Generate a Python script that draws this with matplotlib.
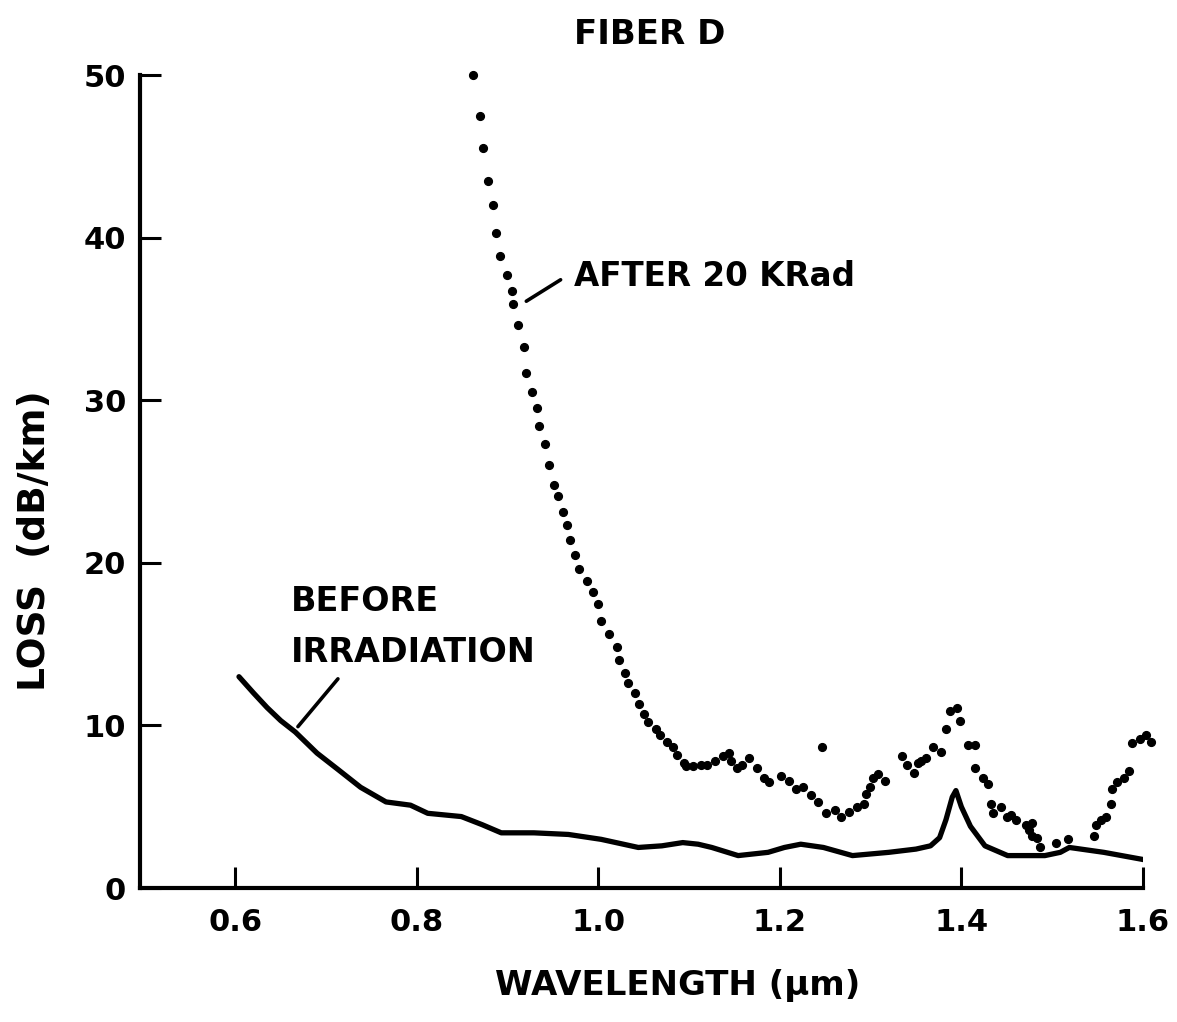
import matplotlib
matplotlib.use("Agg")
import matplotlib.pyplot as plt

plt.rcParams['font.family'] = ['DejaVu Sans']
plt.rcParams['font.weight'] = 'bold'

title = "FIBER D"
xlabel = "WAVELENGTH (\u03bcm)"
ylabel = "LOSS  (dB/km)"
label_before_1 = "BEFORE"
label_before_2 = "IRRADIATION"
label_after = "AFTER 20 KRad"

xticks = [0.6, 0.8, 1.0, 1.2, 1.4, 1.6]
xticklabels = ["0.6", "0.8", "1.0", "1.2", "1.4", "1.6"]
yticks = [0, 10, 20, 30, 40, 50]
yticklabels = ["0", "10", "20", "30", "40", "50"]

before_wl = [0.604, 0.620, 0.635, 0.650, 0.666, 0.690, 0.713, 0.738, 0.766, 0.793,
             0.812, 0.849, 0.872, 0.893, 0.929, 0.967, 1.003, 1.044, 1.070, 1.093,
             1.110, 1.125, 1.154, 1.187, 1.205, 1.223, 1.248, 1.280, 1.320, 1.350,
             1.366, 1.376, 1.383, 1.390, 1.394, 1.400, 1.410, 1.426, 1.451, 1.492,
             1.509, 1.519, 1.557, 1.606]
before_loss = [13.0, 12.0, 11.1, 10.3, 9.6, 8.3, 7.3, 6.2, 5.3, 5.1,
               4.6, 4.4, 3.9, 3.4, 3.4, 3.3, 3.0, 2.5, 2.6, 2.8,
               2.7, 2.5, 2.0, 2.2, 2.5, 2.7, 2.5, 2.0, 2.2, 2.4,
               2.6, 3.1, 4.2, 5.6, 6.0, 5.0, 3.8, 2.6, 2.0, 2.0,
               2.2, 2.5, 2.2, 1.7]

after_wl = [0.862, 0.870, 0.873, 0.878, 0.884, 0.887, 0.892, 0.899, 0.905, 0.906,
            0.911, 0.918, 0.920, 0.927, 0.932, 0.935, 0.941, 0.946, 0.951, 0.956,
            0.961, 0.965, 0.969, 0.974, 0.979, 0.987, 0.994, 1.000, 1.003, 1.012,
            1.020, 1.023, 1.029, 1.033, 1.040, 1.045, 1.050, 1.055,
            1.064, 1.068, 1.076, 1.082, 1.087, 1.094, 1.097, 1.104, 1.113, 1.120,
            1.129, 1.137, 1.144, 1.146, 1.153, 1.158, 1.166, 1.175, 1.182, 1.188,
            1.201, 1.210, 1.218, 1.226, 1.234, 1.242, 1.246, 1.251, 1.261, 1.267,
            1.276, 1.285, 1.293, 1.295, 1.299, 1.303, 1.308, 1.316, 1.335, 1.340,
            1.348, 1.352, 1.355, 1.361, 1.369, 1.378, 1.383, 1.387, 1.395, 1.399,
            1.407, 1.415, 1.415, 1.424, 1.429, 1.433, 1.435, 1.444, 1.450, 1.455,
            1.460, 1.471, 1.478, 1.475, 1.478, 1.483, 1.487, 1.504, 1.517, 1.546,
            1.548, 1.554, 1.559, 1.565, 1.566, 1.572, 1.579, 1.585, 1.588, 1.597,
            1.604, 1.609]
after_loss = [50.0, 47.5, 45.5, 43.5, 42.0, 40.3, 38.9, 37.7, 36.7, 35.9,
              34.6, 33.3, 31.7, 30.5, 29.5, 28.4, 27.3, 26.0, 24.8, 24.1,
              23.1, 22.3, 21.4, 20.5, 19.6, 18.9, 18.2, 17.5, 16.4, 15.6,
              14.8, 14.0, 13.2, 12.6, 12.0, 11.3, 10.7, 10.2,
              9.8, 9.4, 9.0, 8.7, 8.2, 7.7, 7.5, 7.5, 7.6, 7.6,
              7.8, 8.1, 8.3, 7.8, 7.4, 7.6, 8.0, 7.4, 6.8, 6.5,
              6.9, 6.6, 6.1, 6.2, 5.7, 5.3, 8.7, 4.6, 4.8, 4.4,
              4.7, 5.0, 5.2, 5.8, 6.2, 6.8, 7.0, 6.6, 8.1, 7.6,
              7.1, 7.7, 7.8, 8.0, 8.7, 8.4, 9.8, 10.9, 11.1, 10.3,
              8.8, 8.8, 7.4, 6.8, 6.4, 5.2, 4.6, 5.0, 4.4, 4.5,
              4.2, 3.9, 4.0, 3.6, 3.2, 3.1, 2.5, 2.8, 3.0, 3.2,
              3.9, 4.2, 4.4, 5.2, 6.1, 6.5, 6.8, 7.2, 8.9, 9.2,
              9.4, 9.0]

fig = plt.figure(figsize=(11.77, 10.22), dpi=100)
ax = fig.add_axes([0.119, 0.131, 0.852, 0.7956])

ax.plot(before_wl, before_loss, color='black', lw=3.8, solid_capstyle='round',
        solid_joinstyle='round')
ax.plot(after_wl, after_loss, linestyle='none', marker='o', ms=5.6, color='black',
        clip_on=False)

ax.set_xlim(0.495, 1.6)
ax.set_ylim(0, 50)
for side in ['top', 'right']:
    ax.spines[side].set_visible(False)
for side in ['left', 'bottom']:
    ax.spines[side].set_linewidth(3.0)

ax.set_xticks(xticks)
ax.set_xticklabels(xticklabels)
ax.set_yticks(yticks)
ax.set_yticklabels(yticklabels)
ax.tick_params(axis='both', direction='in', length=15, width=2.2, labelsize=22)
ax.tick_params(axis='x', pad=14)
ax.tick_params(axis='y', pad=10)
for lab in ax.get_xticklabels() + ax.get_yticklabels():
    lab.set_fontweight('bold')

# annotations
ax.text(0.973, 37.6, label_after, fontsize=23.5, fontweight='bold', va='center', ha='left')
ax.annotate('', xy=(0.918, 36.0), xytext=(0.961, 37.5),
            arrowprops=dict(arrowstyle='-', lw=2.6, color='black'))
ax.text(0.661, 17.65, label_before_1, fontsize=24, fontweight='bold', va='center', ha='left')
ax.text(0.661, 14.5, label_before_2, fontsize=24, fontweight='bold', va='center', ha='left')
ax.annotate('', xy=(0.667, 9.8), xytext=(0.715, 13.0),
            arrowprops=dict(arrowstyle='-', lw=2.6, color='black'))

fig.text(0.552, 0.966, title, fontsize=24.5, fontweight='bold', ha='center', va='center')
fig.text(0.576, 0.036, xlabel, fontsize=24.5, fontweight='bold', ha='center', va='center')
fig.text(0.030, 0.471, ylabel, fontsize=27, fontweight='bold', ha='center', va='center',
         rotation=90)

fig.savefig('out.png', dpi=100)
